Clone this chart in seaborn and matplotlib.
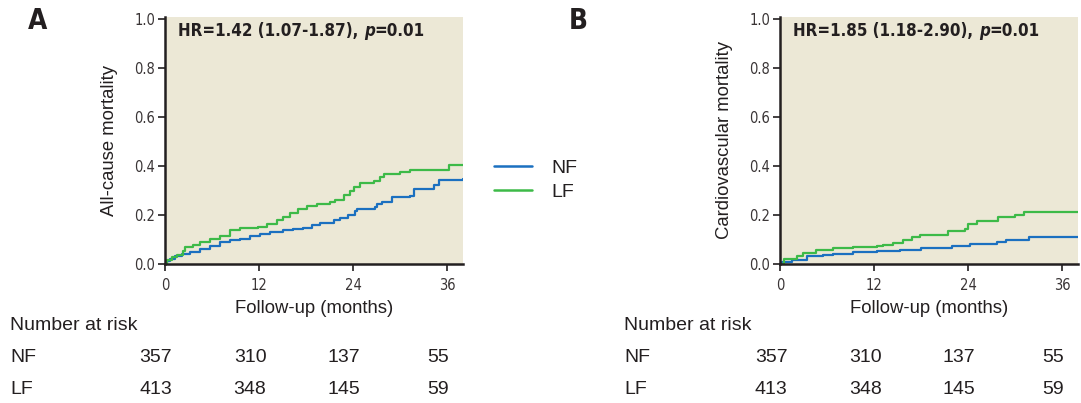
import pandas as pd
import matplotlib
matplotlib.use("Agg")
import matplotlib.pyplot as plt
import matplotlib.transforms as mtransforms
import seaborn as sns

# ---------------------------
# DATA
# ---------------------------
groups = ["NF", "LF"]
colors = {"NF": "#1b70c0", "LF": "#3dba48"}

# Panel A: all-cause mortality
a_nf_months = [0, 0.21, 0.64, 1.28, 2.13, 3.19, 4.47, 5.74, 7.02, 8.30, 9.57, 10.85, 12.13, 13.40, 15.11, 16.38, 17.66, 18.72, 19.79, 21.49, 22.34, 23.40, 24.26, 24.47, 26.81, 27.02, 27.66, 28.94, 31.28, 31.70, 34.26, 34.89, 38.0]
a_nf_values = [0.0, 0.011, 0.020, 0.031, 0.042, 0.050, 0.061, 0.075, 0.088, 0.096, 0.102, 0.113, 0.122, 0.129, 0.140, 0.143, 0.145, 0.158, 0.167, 0.178, 0.188, 0.198, 0.215, 0.224, 0.232, 0.246, 0.255, 0.273, 0.279, 0.306, 0.323, 0.344, 0.348]
a_lf_months = [0, 0.21, 0.85, 1.49, 2.34, 2.60, 3.62, 4.47, 5.74, 7.02, 8.30, 9.57, 11.91, 12.98, 14.26, 15.11, 15.96, 17.02, 18.09, 19.36, 21.06, 21.70, 22.77, 23.62, 24.04, 24.89, 26.60, 27.45, 27.87, 30.0, 31.28, 36.17, 38.0]
a_lf_values = [0.0, 0.015, 0.029, 0.038, 0.052, 0.069, 0.079, 0.088, 0.102, 0.113, 0.140, 0.145, 0.149, 0.164, 0.178, 0.192, 0.208, 0.224, 0.238, 0.243, 0.254, 0.262, 0.283, 0.296, 0.314, 0.330, 0.337, 0.355, 0.367, 0.374, 0.385, 0.403, 0.403]

# Panel B: cardiovascular mortality
b_nf_months = [0, 0.3, 1.5, 3.4, 5.5, 6.8, 9.3, 12.3, 15.3, 18.0, 21.9, 24.2, 27.6, 28.8, 31.7, 38.0]
b_nf_values = [0.0, 0.01, 0.015, 0.031, 0.038, 0.042, 0.048, 0.052, 0.058, 0.064, 0.072, 0.082, 0.09, 0.099, 0.11, 0.11]
b_lf_months = [0, 0.5, 2.1, 2.9, 4.6, 6.8, 9.3, 12.3, 13.1, 14.4, 15.7, 16.8, 17.8, 21.4, 23.6, 24.0, 25.1, 27.8, 30.0, 31.1, 38.0]
b_lf_values = [0.0, 0.02, 0.034, 0.045, 0.058, 0.065, 0.069, 0.072, 0.079, 0.086, 0.096, 0.11, 0.117, 0.133, 0.143, 0.164, 0.175, 0.192, 0.201, 0.213, 0.213]

risk_months = [0, 12, 24, 36]
risk_nf = [357, 310, 137, 55]
risk_lf = [413, 348, 145, 59]

hr_a = ["HR=1.42 (1.07-1.87), ", "p", "=0.01"]
hr_b = ["HR=1.85 (1.18-2.90), ", "p", "=0.01"]


def make_df(nf_x, nf_y, lf_x, lf_y):
    return pd.concat([
        pd.DataFrame({"month": nf_x, "risk": nf_y, "group": "NF"}),
        pd.DataFrame({"month": lf_x, "risk": lf_y, "group": "LF"}),
    ], ignore_index=True)


df_a = make_df(a_nf_months, a_nf_values, a_lf_months, a_lf_values)
df_b = make_df(b_nf_months, b_nf_values, b_lf_months, b_lf_values)

# ---------------------------
# FONTS
# ---------------------------
sns.set_style("white")
plt.rcParams["font.family"] = ["Liberation Sans", "DejaVu Sans"]
narrow = dict(family="DejaVu Sans", fontstretch="condensed")

bg = "#ece8d6"
text_col = "#231f20"

fig = plt.figure(figsize=(10.81, 4.03), dpi=100)
ax_a = fig.add_axes([0.1526, 0.3449, 0.2757, 0.613])
ax_b = fig.add_axes([0.7216, 0.3449, 0.2757, 0.613])


def draw_panel(ax, df, ylabel, hr_parts):
    ax.set_facecolor(bg)
    sns.lineplot(data=df, x="month", y="risk", hue="group", hue_order=groups,
                 palette=colors, estimator=None, drawstyle="steps-post",
                 linewidth=1.6, ax=ax, legend=False)
    ax.set_xlim(0, 38)
    ax.set_ylim(0, 1.008)
    ax.set_xticks(risk_months)
    ax.set_yticks([0, 0.2, 0.4, 0.6, 0.8, 1.0])
    ax.set_yticklabels(["0.0", "0.2", "0.4", "0.6", "0.8", "1.0"])
    for lab in ax.get_xticklabels() + ax.get_yticklabels():
        lab.set_fontfamily(narrow["family"])
        lab.set_fontstretch(narrow["fontstretch"])
        lab.set_fontsize(10.5)
        lab.set_color("#3a3536")
    ax.tick_params(axis="both", direction="out", length=5, width=1.2,
                   color="#231f20", left=True, bottom=True)
    ax.tick_params(axis="x", pad=5)
    ax.tick_params(axis="y", pad=2)
    for side in ["top", "right"]:
        ax.spines[side].set_visible(False)
    for side in ["left", "bottom"]:
        ax.spines[side].set_color("#231f20")
        ax.spines[side].set_linewidth(1.8)
    ax.set_xlabel("Follow-up (months)", fontsize=13.3, color=text_col, labelpad=5)
    ax.set_ylabel(ylabel, fontsize=13.3, color=text_col, labelpad=12)

    # hazard ratio line, with an italic p
    t1 = ax.text(0.045, 0.945, hr_parts[0], transform=ax.transAxes, fontsize=12.2,
                 fontweight="bold", color=text_col, va="center", ha="left", **narrow)
    t2 = ax.annotate(hr_parts[1], xy=(1, 0), xycoords=t1, va="bottom", ha="left",
                     fontsize=12.2, fontweight="bold", fontstyle="italic", color=text_col, **narrow)
    ax.annotate(hr_parts[2], xy=(1, 0), xycoords=t2, va="bottom", ha="left",
                fontsize=12.2, fontweight="bold", color=text_col, **narrow)

    # number at risk table below the axis
    shift = mtransforms.offset_copy(ax.transData, fig=fig, x=-9, y=0, units="dots")
    trans = mtransforms.blended_transform_factory(shift, fig.transFigure)
    for vals, ypix in [(risk_nf, 357), (risk_lf, 389)]:
        for m, v in zip(risk_months, vals):
            ax.text(m, 1 - ypix / 403, str(v), transform=trans,
                    fontsize=14, color=text_col, ha="center", va="center")


draw_panel(ax_a, df_a, "All-cause mortality", hr_a)
draw_panel(ax_b, df_b, "Cardiovascular mortality", hr_b)

# row labels of the risk tables
for x0 in [10, 624]:
    fig.text(x0 / 1081, 1 - 325 / 403, "Number at risk", fontsize=14, color=text_col, va="center")
    fig.text(x0 / 1081, 1 - 357 / 403, "NF", fontsize=14, color=text_col, va="center")
    fig.text(x0 / 1081, 1 - 389 / 403, "LF", fontsize=14, color=text_col, va="center")

# panel letters
fig.text(28 / 1081, 1 - 21 / 403, "A", fontsize=20, fontweight="bold",
         color=text_col, va="center", **narrow)
fig.text(569 / 1081, 1 - 21 / 403, "B", fontsize=20, fontweight="bold",
         color=text_col, va="center", **narrow)

# legend between the panels
handles = [plt.Line2D([], [], color=colors[g], linewidth=1.8) for g in groups]
fig.legend(handles, groups, loc="center left", bbox_to_anchor=(486 / 1081, 1 - 180 / 403),
           borderaxespad=0, frameon=False, fontsize=14, handlelength=1.95,
           handletextpad=1.0, labelspacing=0.3, labelcolor=text_col)

fig.savefig("out.png", dpi=100, facecolor="white")
